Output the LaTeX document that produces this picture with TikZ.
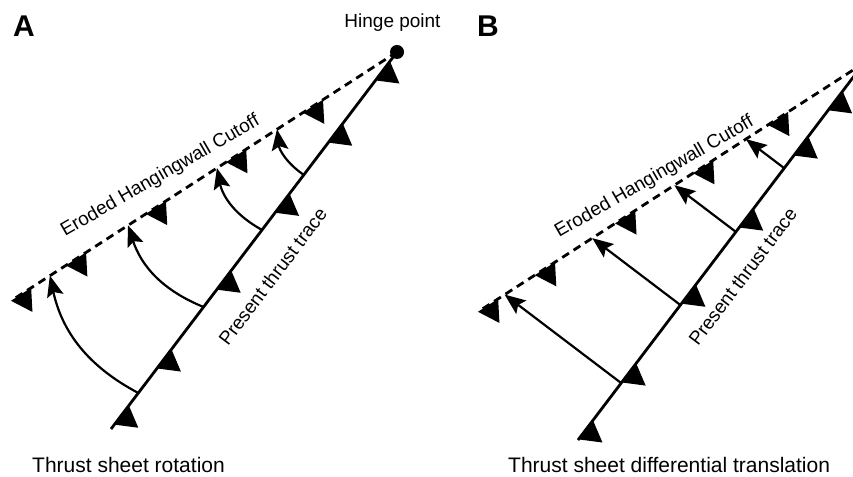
\documentclass[tikz,border=0pt]{standalone}
\usepackage{fontspec}
\setmainfont{Liberation Sans}
\usetikzlibrary{calc}
\newcommand{\Tooth}[2]{\fill[shift={(#1)},rotate=#2] (-12,0) -- (12,0) -- (0,-21) -- cycle;}
\newcommand{\Head}[2]{\fill[shift={(#1)},rotate=#2] (0,0) -- (-21,8.5) -- (-17,0) -- (-21,-8.5) -- cycle;}
\begin{document}
\begin{tikzpicture}[x=1pt,y=1pt,
  fault/.style={line width=2.8pt},
  cutoff/.style={line width=2.8pt, dash pattern=on 8pt off 5.5pt},
  mv/.style={line width=2.2pt, shorten >=15pt},
  lbl/.style={inner sep=0pt, font=\fontsize{19}{21}\selectfont},
  captxt/.style={inner sep=0pt, font=\fontsize{21}{24}\selectfont},
  panel/.style={inner sep=0pt, font=\fontsize{30}{32}\selectfont\bfseries}]
\useasboundingbox (0,0) rectangle (853,476);
\begin{scope}
\clip (0,0) rectangle (853,476);
% ---------- Panel A ----------
\coordinate (SA) at (111,47);
\coordinate (HA) at (397,424);
\coordinate (DA) at (13,176.5);
\draw[fault] (SA) -- (HA);
\draw[cutoff] (HA) -- (DA);
\foreach \t [count=\i] in {0.037,0.186,0.395,0.599,0.785,0.95}{
  \coordinate (ta\i) at ($(SA)!\t!(HA)$);
  \Tooth{ta\i}{52.82}
}
\foreach \s [count=\i] in {0.021,0.164,0.372,0.581,0.781}{
  \coordinate (da\i) at ($(DA)!\s!(HA)$);
  \Tooth{da\i}{32.8}
}
\foreach \t/\s [count=\i] in {0.0955/0.096,0.3236/0.2995,0.528/0.531,0.674/0.6875}{
  \coordinate (a\i s) at ($(SA)!\t!(HA)$);
  \coordinate (a\i e) at ($(DA)!\s!(HA)$);
  \draw[mv] (a\i s) to[bend left=25] (a\i e);
  \fill let \p1=($(a\i e)-(a\i s)$), \n1={atan2(\y1,\x1)-22} in
    (a\i e) -- ($(a\i e)+(\n1+180-22:22.7)$) -- ($(a\i e)+(\n1+180:17)$)
    -- ($(a\i e)+(\n1+180+22:22.7)$) -- cycle;
}
\fill (HA) circle (7);
\node[lbl, anchor=base] (hinge) at (392.5,448) {Hinge point};
\node[lbl, anchor=base west, rotate=30] (ehcA) at (65,239) {Eroded Hangingwall Cutoff};
\node[lbl, anchor=base west, rotate=53] (pttA) at (228,129) {Present thrust trace};
\node[panel, anchor=base west] (labA) at (13,439) {A};
\node[captxt, anchor=base west] (capA) at (32,4) {Thrust sheet rotation};
% ---------- Panel B ----------
\coordinate (SB) at (578,36);
\coordinate (HB) at (864,413);
\coordinate (DB) at (480,165.5);
\draw[fault] (SB) -- (HB);
\draw[cutoff] (HB) -- (DB);
\foreach \t [count=\i] in {0.027,0.178,0.387,0.589,0.78,0.90}{
  \coordinate (tb\i) at ($(SB)!\t!(HB)$);
  \Tooth{tb\i}{52.82}
}
\foreach \s [count=\i] in {0.021,0.169,0.378,0.581,0.776}{
  \coordinate (db\i) at ($(DB)!\s!(HB)$);
  \Tooth{db\i}{32.8}
}
\foreach \t [count=\i] in {0.151,0.358,0.552,0.721}{
  \coordinate (b\i s) at ($(SB)!\t!(HB)$);
  \coordinate (b\i q) at ($(b\i s)+(142.8:60)$);
  \coordinate (b\i e) at (intersection of b\i s--b\i q and DB--HB);
  \draw[mv] (b\i s) -- (b\i e);
  \Head{b\i e}{142.8}
}
\node[lbl, anchor=base west, rotate=30] (ehcB) at (559,238) {Eroded Hangingwall Cutoff};
\node[lbl, anchor=base west, rotate=53] (pttB) at (698,129) {Present thrust trace};
\node[panel, anchor=base west] (labB) at (477,439) {B};
\node[captxt, anchor=base west] (capB) at (508,4) {Thrust sheet differential translation};
\end{scope}
\end{tikzpicture}
\end{document}
